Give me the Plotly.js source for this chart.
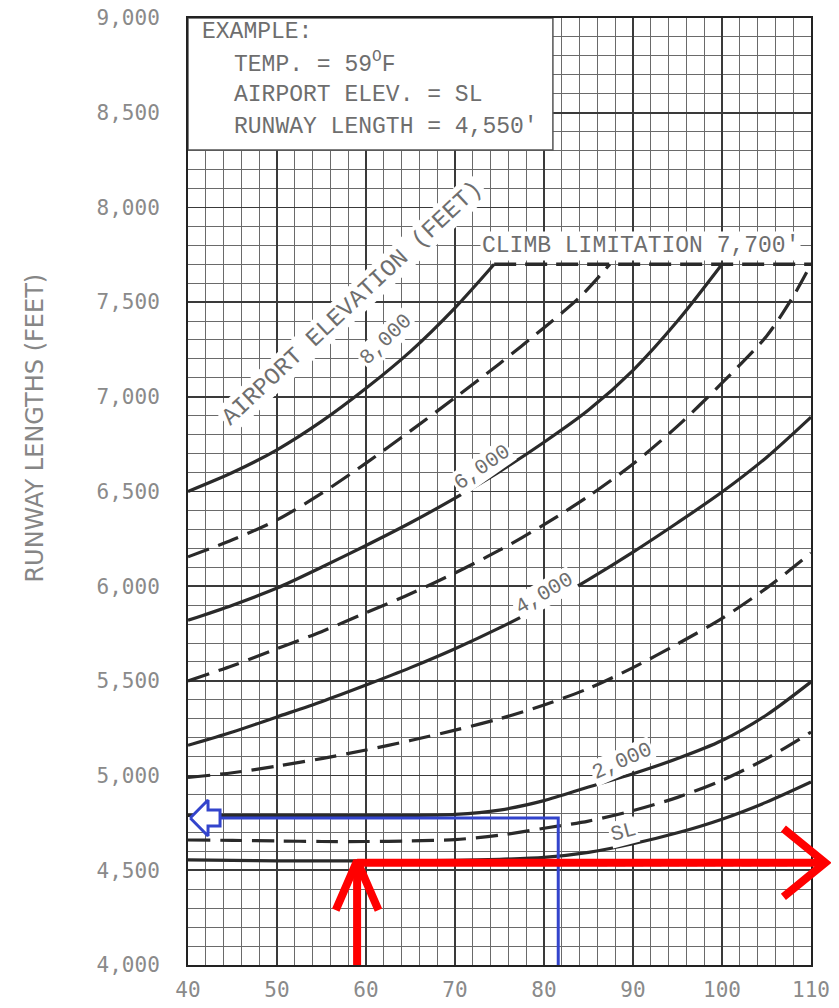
<!DOCTYPE html>
<html>
<head>
<meta charset="utf-8">
<script src="https://cdn.plot.ly/plotly-3.0.1.min.js"></script>
<style>
html,body{margin:0;padding:0;background:#fff;}
#chart{width:839px;height:1008px;}
</style>
</head>
<body>
<div id="chart"></div>
<script>
// ---- Data ----
// Temperature (deg F) sample points
const temps = [40,45,50,55,60,65,70,75,80,85,90,95,100,105,110];
const temps5000 = [40,45,50,55,60,65,70,75,80,85,90,95,100,105,108,110];
const temps6000 = [40,45,50,55,60,65,70,75,80,85,90,95,100];
const temps7000 = [40,45,50,55,60,65,70,75,80,84,87.4];
const temps8000 = [40,45,50,55,60,65,70,74.4];

// Runway length (ft) for each airport elevation
const lenSL   = [4555,4552,4550,4550,4550,4550,4553,4558,4568,4595,4640,4698,4770,4860,4966];
const len1000 = [4660,4658,4655,4652,4652,4655,4662,4685,4722,4760,4815,4885,4975,5090,5230];
const len2000 = [4790,4790,4790,4790,4790,4790,4795,4818,4868,4940,5010,5090,5185,5320,5495];
const len3000 = [4990,5015,5050,5090,5135,5185,5240,5300,5373,5460,5570,5695,5830,5990,6175];
const len4000 = [5160,5230,5310,5390,5478,5570,5670,5780,5900,6035,6180,6335,6497,6680,6893];
const len5000 = [5500,5580,5670,5760,5860,5960,6070,6190,6325,6475,6645,6845,7073,7320,7530,7700];
const len6000 = [5820,5900,5990,6100,6215,6335,6465,6605,6760,6930,7140,7400,7700];
const len7000 = [6155,6245,6350,6490,6650,6820,6995,7175,7365,7525,7700];
const len8000 = [6500,6600,6720,6870,7045,7240,7470,7700];

// Climb limitation
const climbX = [74.4,110];
const climbY = [7700,7700];

// Worked example (red) and second example (blue)
const exTempRed = 59, exLenRed = 4540, exRedEnd = 111.6;
const exTempBlue = 81.6, exLenBlue = 4776, exBlueEnd = 43.6;
const exFaintX = [86,108], exFaintY = [4525,4525];

// Tick values
const xTicks = [40,50,60,70,80,90,100,110];
const yTicks = [4000,4500,5000,5500,6000,6500,7000,7500,8000,8500,9000];

// ---- Styles ----
const ink = '#2a2a2a';
const solid = {color: ink, width: 3.2, shape: 'spline', smoothing: 0.8};
const dashed = {color: ink, width: 3.2, dash: '22px,10px', shape: 'spline', smoothing: 0.8};
const typeFont = {family: 'Liberation Mono, DejaVu Sans Mono, monospace', color: '#6e6e6e'};

function curve(x, y, line){
  return {x: x, y: y, type: 'scatter', mode: 'lines', line: line, hoverinfo: 'skip', showlegend: false};
}

const traces = [
  curve(temps, lenSL, solid),
  curve(temps, len1000, dashed),
  curve(temps, len2000, solid),
  curve(temps, len3000, dashed),
  curve(temps, len4000, solid),
  curve(temps5000, len5000, dashed),
  curve(temps6000, len6000, solid),
  curve(temps7000, len7000, dashed),
  curve(temps8000, len8000, solid),
  curve(climbX, climbY, {color: ink, width: 3.6, dash: '22px,9px'}),
  curve(exFaintX, exFaintY, {color: '#555', width: 1.5, dash: '10px,8px'})
];

// Blue example path with hollow arrowhead
const bHalf = 95, bShaft = 42, bHead = 2.0;
traces.push({x: [exTempBlue, exTempBlue, exBlueEnd], y: [4000, exLenBlue, exLenBlue],
  type: 'scatter', mode: 'lines', line: {color: '#3344cc', width: 3}, hoverinfo: 'skip', showlegend: false});
traces.push({
  x: [40.25, 40.25 + bHead, 40.25 + bHead, exBlueEnd, exBlueEnd, 40.25 + bHead, 40.25 + bHead, 40.25],
  y: [exLenBlue, exLenBlue + bHalf, exLenBlue + bShaft, exLenBlue + bShaft, exLenBlue - bShaft, exLenBlue - bShaft, exLenBlue - bHalf, exLenBlue],
  type: 'scatter', mode: 'lines', fill: 'toself', fillcolor: '#ffffff',
  line: {color: '#3344cc', width: 3}, hoverinfo: 'skip', showlegend: false});

// Red example path with open chevrons (drawn on an overlay subplot so the tip can pass the 110 border)
const red = {color: '#ff0000', width: 8};
function redTrace(x, y){
  return {x: x, y: y, xaxis: 'x2', yaxis: 'y2', type: 'scatter', mode: 'lines', line: red, hoverinfo: 'skip', showlegend: false};
}
traces.push(redTrace([exTempRed, exTempRed], [4000, exLenRed + 10]));
traces.push(redTrace([exTempRed - 2.4, exTempRed, exTempRed + 2.4], [exLenRed - 250, exLenRed + 10, exLenRed - 250]));
traces.push(redTrace([exTempRed, exRedEnd], [exLenRed, exLenRed]));
traces.push(redTrace([exRedEnd - 4.7, exRedEnd, exRedEnd - 4.7], [exLenRed + 180, exLenRed, exLenRed - 180]));

function label(text, x, y, angle, size){
  return {text: text, x: x, y: y, xref: 'x', yref: 'y', showarrow: false, textangle: angle,
    font: Object.assign({size: size}, typeFont), bgcolor: '#ffffff', borderpad: 1};
}
function line(text, x, y){
  return {text: text, x: x, y: y, xref: 'x', yref: 'y', xanchor: 'left', showarrow: false, font: Object.assign({size: 23}, typeFont)};
}

const annotations = [
  label('AIRPORT ELEVATION (FEET)', 58.4, 7495, -43, 24),
  label('8,000', 62.3, 7300, -44, 21),
  label('6,000', 73.1, 6625, -35, 21),
  label('4,000', 80.1, 5960, -30, 21),
  label('2,000', 88.8, 5072, -24, 21),
  label('SL', 88.9, 4697, -15, 21),
  label("CLIMB LIMITATION 7,700'", 90.8, 7796, 0, 23),
  line('EXAMPLE:', 41.3, 8926),
  line('TEMP. = 59<sup>O</sup>F', 44.9, 8762),
  line('AIRPORT ELEV. = SL', 44.9, 8593),
  line("RUNWAY LENGTH = 4,550'", 44.9, 8425),
  {text: 'RUNWAY LENGTHS (FEET)', x: -0.262, y: 0.567, xref: 'paper', yref: 'paper', showarrow: false, textangle: -90,
   font: {family: 'DejaVu Sans, sans-serif', size: 24, color: '#868686'}}
];

const shapes = [
  {type: 'rect', xref: 'x', yref: 'y', x0: 40, x1: 81.0, y0: 8303, y1: 9000,
   fillcolor: '#ffffff', line: {color: '#555', width: 1.5}, layer: 'above'}
];

const tickFont = {family: 'DejaVu Sans Mono, monospace', size: 21, color: '#8a8a8a'};

// geometry: main plot 623px wide for 40..110; overlay extends to the right margin
const W = 839, ML = 188, MR = 8, plotW = 623;
const paperW = W - ML - MR;
const x2max = 40 + paperW * 70 / plotW;

const layout = {
  width: W, height: 1008,
  margin: {l: ML, r: MR, t: 18, b: 43},
  paper_bgcolor: '#ffffff', plot_bgcolor: 'rgba(0,0,0,0)',
  showlegend: false,
  xaxis: {
    domain: [0, plotW / paperW],
    range: [40, 110], tickvals: xTicks, ticks: '', tickfont: tickFont,
    showgrid: true, gridcolor: '#3a3a3a', gridwidth: 1.8,
    minor: {dtick: 2, tick0: 40, showgrid: true, gridcolor: '#6a6a6a', gridwidth: 1, ticks: ''},
    showline: true, linecolor: '#222', linewidth: 2, mirror: true, zeroline: false,
    ticklabelstandoff: 5, fixedrange: true
  },
  yaxis: {
    range: [4000, 9000], tickvals: yTicks, tickformat: ',d', ticks: '', tickfont: tickFont,
    showgrid: true, gridcolor: '#3a3a3a', gridwidth: 1.8,
    minor: {dtick: 100, tick0: 4000, showgrid: true, gridcolor: '#6a6a6a', gridwidth: 1, ticks: ''},
    showline: true, linecolor: '#222', linewidth: 2, mirror: true, zeroline: false,
    ticklabelstandoff: 22, fixedrange: true
  },
  xaxis2: {domain: [0, 1], range: [40, x2max], anchor: 'y2', visible: false, showgrid: false, zeroline: false, fixedrange: true},
  yaxis2: {range: [4000, 9000], anchor: 'x2', visible: false, showgrid: false, zeroline: false, fixedrange: true},
  annotations: annotations,
  shapes: shapes
};

Plotly.newPlot('chart', traces, layout, {staticPlot: true, displayModeBar: false});
</script>
</body>
</html>
